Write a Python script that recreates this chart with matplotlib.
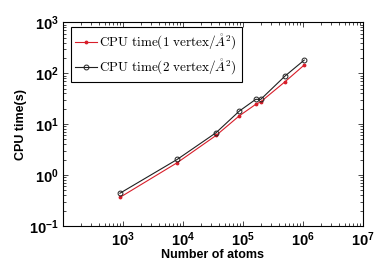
import matplotlib
matplotlib.use("Agg")
import matplotlib.pyplot as plt
from matplotlib.ticker import LogLocator, FixedLocator, NullFormatter

atoms = [900, 8100, 36000, 88000, 165000, 200000, 507000, 1060000]
cpu_1vertex = [0.365, 1.75, 6.0, 14.6, 24.5, 27.5, 68, 145]
cpu_2vertex = [0.44, 2.03, 6.8, 18.1, 30.7, 30.7, 88, 181]
label_1 = r"$\mathrm{CPU\ time(1\ vertex/}\mathring{A}^2)$"
label_2 = r"$\mathrm{CPU\ time(2\ vertex/}\mathring{A}^2)$"
xticks = [1e3, 1e4, 1e5, 1e6, 1e7]
xticklabels = [r"$\mathbf{10^{3}}$", r"$\mathbf{10^{4}}$", r"$\mathbf{10^{5}}$",
               r"$\mathbf{10^{6}}$", r"$\mathbf{10^{7}}$"]
yticks = [1e-1, 1e0, 1e1, 1e2, 1e3]
yticklabels = [r"$\mathbf{10^{-1}}$", r"$\mathbf{10^{0}}$", r"$\mathbf{10^{1}}$",
               r"$\mathbf{10^{2}}$", r"$\mathbf{10^{3}}$"]

plt.rcParams["font.family"] = ["Liberation Sans", "DejaVu Sans"]
plt.rcParams["mathtext.fontset"] = "custom"
plt.rcParams["mathtext.rm"] = "Liberation Sans"
plt.rcParams["mathtext.bf"] = "Liberation Sans:bold"

fig = plt.figure(figsize=(3.83, 2.74), dpi=100)
ax = fig.add_axes([62.7/383, (274-226)/274, 300/383, 203.7/274])

ax.plot(atoms, cpu_1vertex, color="#d81e2a", lw=0.8, marker=".", ms=3.5,
        label=label_1)
ax.plot(atoms, cpu_2vertex, color="#202020", lw=0.8, marker="o", ms=3.5,
        mfc="none", mew=0.7, label=label_2)

ax.set_xscale("log")
ax.set_yscale("log")
ax.set_xlim(1e2, 1e7)
ax.set_ylim(1e-1, 1e3)

ax.xaxis.set_major_locator(FixedLocator(xticks))
ax.set_xticklabels(xticklabels, fontsize=10.5)
ax.yaxis.set_major_locator(FixedLocator(yticks))
ax.set_yticklabels(yticklabels, fontsize=10.5)
ax.xaxis.set_minor_locator(LogLocator(base=10, subs=range(2, 10), numticks=20))
ax.yaxis.set_minor_locator(LogLocator(base=10, subs=range(2, 10), numticks=20))
ax.xaxis.set_minor_formatter(NullFormatter())
ax.yaxis.set_minor_formatter(NullFormatter())
ax.tick_params(which="both", direction="in", top=True, right=True, width=0.5)
ax.tick_params(which="major", length=3.5, pad=3)
ax.tick_params(which="minor", length=2)
for s in ax.spines.values():
    s.set_linewidth(0.8)

ax.set_xlabel("Number of atoms", fontsize=9, fontweight="bold", labelpad=0)
ax.set_ylabel("CPU time(s)", fontsize=9, fontweight="bold")
ax.yaxis.set_label_coords(-0.12, 0.5)

leg = ax.legend(loc="upper left", bbox_to_anchor=(0.027, 0.975), borderaxespad=0,
                fancybox=False, edgecolor="black", fontsize=9.5, handlelength=1.6,
                handletextpad=0.2, borderpad=0.35, labelspacing=0.45, framealpha=1)
leg.get_frame().set_linewidth(0.8)
for t in leg.get_texts():
    t.set_math_fontfamily("cm")

fig.savefig("out.png", dpi=100)
